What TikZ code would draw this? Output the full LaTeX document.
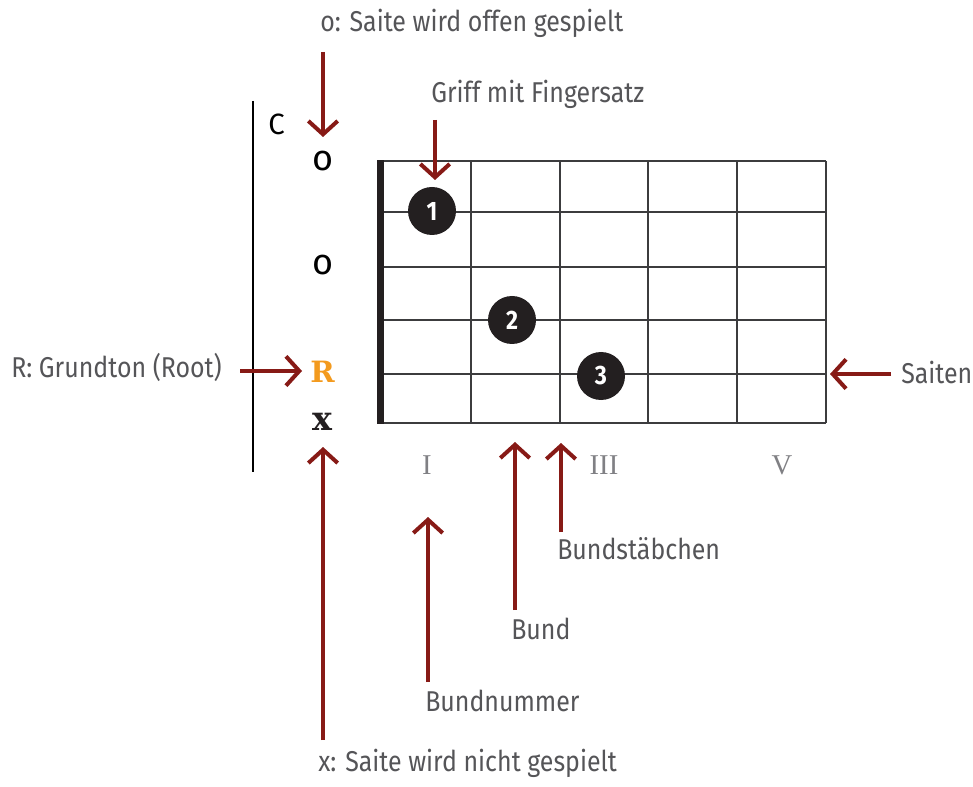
\documentclass[tikz,border=0pt]{standalone}
\usepackage{fontspec}
\usetikzlibrary{arrows.meta}
\setmainfont{Fira Sans}[FakeStretch=0.87]
\newfontfamily\markfont{Fira Sans}
\newfontfamily\romanfont{Liberation Serif}
\newfontfamily\slabfont{DejaVu Serif}
\definecolor{arrowred}{RGB}{135,26,22}
\definecolor{labelgray}{RGB}{85,85,88}
\definecolor{numgray}{RGB}{128,128,132}
\definecolor{rootorange}{RGB}{243,154,30}
\definecolor{gridgray}{RGB}{60,60,62}
\definecolor{dotblack}{RGB}{35,31,32}
\tikzset{
  label text/.style={anchor=base west, inner sep=0pt, text=labelgray, font=\fontsize{21.5}{25}\selectfont},
  marker/.style={anchor=base, inner sep=0pt, font=\fontsize{21}{25}\selectfont},
  fret num/.style={anchor=base, inner sep=0pt, text=numgray, font=\romanfont\fontsize{21.5}{25}\selectfont},
  finger/.style={circle, fill=dotblack, minimum size=36pt, inner sep=0pt, text=white, font=\bfseries\fontsize{20}{24}\selectfont},
  pointer/.style={draw=arrowred, line width=3pt, -{Straight Barb[length=10pt,width=22pt]}},
  gridline/.style={draw=gridgray, line width=1.5pt},
}
\begin{document}
\begin{tikzpicture}[x=0.75pt, y=-0.75pt]
\useasboundingbox (0,0) rectangle (973,787);

% chord name column
\draw[line width=1.1pt] (253,101) -- (253,472);
\node[marker, anchor=base west, font=\markfont\fontsize{22}{25}\selectfont] (chord) at (268,135) {C};

% fretboard: strings and frets
\foreach \y in {161,212,267,320,374,423}
  \draw[gridline] (380,\y) -- (826,\y);
\foreach \x in {471,560,648,737,826}
  \draw[gridline] (\x,161) -- (\x,423);
\fill[dotblack] (377,160) rectangle (384,424);

% string markers
\node[marker, font=\markfont\fontsize{27}{30}\selectfont] (open1) at (323,171) {o};
\node[marker, font=\markfont\fontsize{27}{30}\selectfont] (open3) at (323,275) {o};
\node[marker, text=rootorange, font=\slabfont\bfseries\fontsize{22}{25}\selectfont] (root) at (322.5,382.5) {R};
\node[marker, text=dotblack, font=\slabfont\bfseries\fontsize{25}{28}\selectfont] (mute) at (322.5,430) {x};

% finger positions
\node[finger] (f1) at (432,211) {1};
\node[finger] (f2) at (512,320) {2};
\node[finger] (f3) at (601,376) {3};

% fret numbers
\node[fret num] (fI) at (427,474) {I};
\node[fret num] (fIII) at (604,474) {III};
\node[fret num] (fV) at (782,474) {V};

% explanation labels
\node[label text] (lopen) at (320,32) {o: Saite wird offen gespielt};
\node[label text] (lgriff) at (431,103) {Griff mit Fingersatz};
\node[label text] (lroot) at (11,378) {R: Grundton (Root)};
\node[label text] (lsaiten) at (901,383) {Saiten};
\node[label text] (lstab) at (557,559) {Bundstäbchen};
\node[label text] (lbund) at (511,639) {Bund};
\node[label text] (lbundnr) at (425,711) {Bundnummer};
\node[label text] (lmute) at (318,771) {x: Saite wird nicht gespielt};

% pointer ends
\coordinate (aopen s) at (323,52);   \coordinate (aopen e) at (323,137);
\coordinate (agriff s) at (435,120); \coordinate (agriff e) at (435,180);
\coordinate (aroot s) at (240,371);  \coordinate (aroot e) at (302,371);
\coordinate (asaiten s) at (891,374);\coordinate (asaiten e) at (830,374);
\coordinate (amute s) at (323,740);  \coordinate (amute e) at (323,447);
\coordinate (anr s) at (428,682);    \coordinate (anr e) at (428,517);
\coordinate (abund s) at (515,610);  \coordinate (abund e) at (515,442);
\coordinate (astab s) at (561,532);  \coordinate (astab e) at (561,443);

\draw[pointer] (aopen s) -- (aopen e);
\draw[pointer] (agriff s) -- (agriff e);
\draw[pointer] (aroot s) -- (aroot e);
\draw[pointer] (asaiten s) -- (asaiten e);
\draw[pointer] (amute s) -- (amute e);
\draw[pointer] (anr s) -- (anr e);
\draw[pointer] (abund s) -- (abund e);
\draw[pointer] (astab s) -- (astab e);
\end{tikzpicture}
\end{document}
